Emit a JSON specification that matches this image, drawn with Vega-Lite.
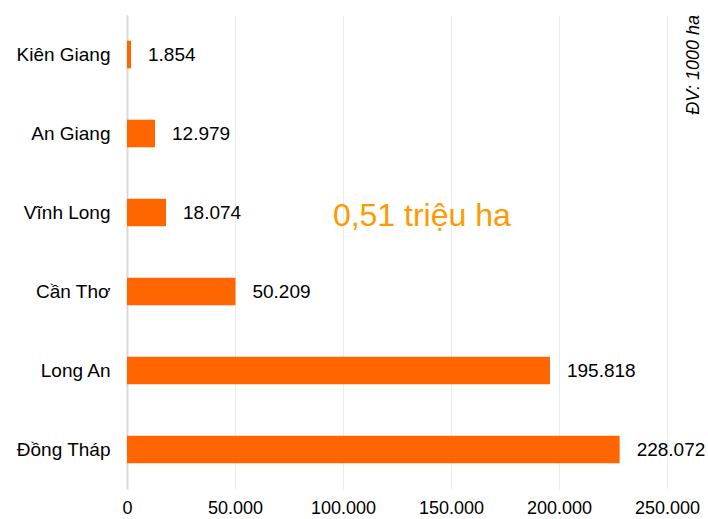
{
  "$schema": "https://vega.github.io/schema/vega-lite/v6.json",
  "width": 540,
  "height": 474,
  "autosize": {"type": "none"},
  "padding": {"left": 127, "top": 15, "right": 41, "bottom": 30},
  "background": "white",
  "config": {
    "view": {"stroke": null},
    "font": "Liberation Sans",
    "text": {"font": "Liberation Sans"}
  },
  "title": {
    "text": "ĐV: 1000 ha",
    "orient": "right",
    "anchor": "start",
    "angle": 270,
    "align": "right",
    "baseline": "bottom",
    "font": "Liberation Sans",
    "fontSize": 18,
    "fontStyle": "italic",
    "fontWeight": "normal",
    "color": "#000000",
    "offset": -15,
    "dy": -5
  },
  "datasets": {
    "bars": [
      {"tinh": "Kiên Giang", "dientich": 1854, "nhan": "1.854"},
      {"tinh": "An Giang", "dientich": 12979, "nhan": "12.979"},
      {"tinh": "Vĩnh Long", "dientich": 18074, "nhan": "18.074"},
      {"tinh": "Cần Thơ", "dientich": 50209, "nhan": "50.209"},
      {"tinh": "Long An", "dientich": 195818, "nhan": "195.818"},
      {"tinh": "Đồng Tháp", "dientich": 228072, "nhan": "228.072"}
    ],
    "note": [
      {"tinh": "Vĩnh Long", "x": 136500, "chu": "0,51 triệu ha"}
    ]
  },
  "layer": [
    {
      "data": {"name": "bars"},
      "mark": {"type": "bar", "color": "#FF6600"},
      "encoding": {
        "y": {
          "field": "tinh",
          "type": "nominal",
          "sort": null,
          "scale": {"paddingInner": 0.65, "paddingOuter": 0.325},
          "axis": {
            "title": null,
            "ticks": false,
            "labelFontSize": 19,
            "labelColor": "#000000",
            "labelPadding": 17,
            "domainColor": "#d9d9d9",
            "domainWidth": 2,
            "grid": false
          }
        },
        "x": {
          "field": "dientich",
          "type": "quantitative",
          "scale": {"domain": [0, 250000], "nice": false},
          "axis": {
            "title": null,
            "values": [0, 50000, 100000, 150000, 200000, 250000],
            "labelExpr": "replace(format(datum.value, ','), /,/g, '.')",
            "labelFontSize": 18,
            "labelColor": "#000000",
            "labelPadding": 10,
            "labelFlush": false,
            "labelOverlap": false,
            "ticks": false,
            "domain": false,
            "grid": true,
            "gridColor": "#ebebeb",
            "gridWidth": 1
          }
        }
      }
    },
    {
      "data": {"name": "bars"},
      "mark": {"type": "text", "align": "left", "baseline": "middle", "dx": 17, "fontSize": 19, "color": "#000000"},
      "encoding": {
        "y": {"field": "tinh", "type": "nominal", "sort": null},
        "x": {"field": "dientich", "type": "quantitative"},
        "text": {"field": "nhan"}
      }
    },
    {
      "data": {"name": "note"},
      "mark": {"type": "text", "align": "center", "baseline": "middle", "fontSize": 32, "color": "#FF9900", "dy": 3},
      "encoding": {
        "y": {"field": "tinh", "type": "nominal", "sort": null},
        "x": {"field": "x", "type": "quantitative"},
        "text": {"field": "chu"}
      }
    }
  ]
}
